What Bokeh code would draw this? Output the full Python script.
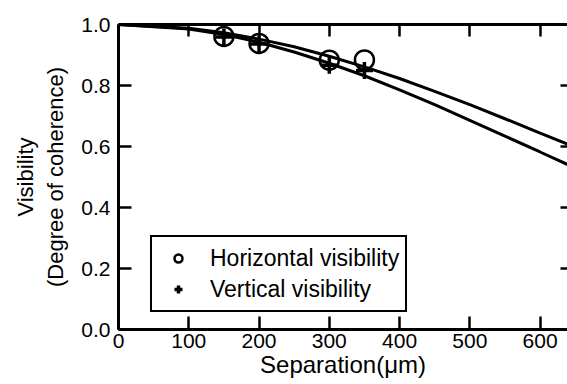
from bokeh.plotting import figure
from bokeh.models import (LinearAxis, FixedTicker, Legend, LegendItem, Range1d,
                          ColumnDataSource)
from bokeh.embed import file_html
from bokeh.resources import INLINE

# ---- data ----
curve_sep = [0, 100, 150, 200, 250, 300, 350, 400, 450, 500, 550, 600, 640]
curve_horizontal = [1.0, 0.988, 0.973, 0.952, 0.927, 0.896, 0.861, 0.823, 0.781,
                    0.737, 0.691, 0.644, 0.607]
curve_vertical = [1.0, 0.985, 0.967, 0.942, 0.910, 0.873, 0.832, 0.786, 0.737,
                  0.686, 0.634, 0.582, 0.540]

meas_sep = [150, 200, 300, 350]
meas_horizontal = [0.961, 0.938, 0.883, 0.884]
meas_vertical = [0.959, 0.936, 0.866, 0.849]

x_ticks = [0, 100, 200, 300, 400, 500, 600]
y_ticks = [0.0, 0.2, 0.4, 0.6, 0.8, 1.0]

y_label = "Visibility\n(Degree of coherence)"
x_label = "Separation(\u03bcm)"

FONT = "Liberation Sans"

p = figure(width=567, height=384, output_backend="svg", toolbar_location=None,
           x_range=Range1d(0, 639), y_range=Range1d(0, 1.0),
           min_border_left=118, min_border_right=0, min_border_top=24,
           min_border_bottom=55, x_axis_type=None, y_axis_type=None)
p.outline_line_color = None
p.grid.visible = False
p.background_fill_color = "white"
p.border_fill_color = "white"

def style_axis(ax):
    ax.axis_line_width = 3
    ax.axis_line_color = "black"
    ax.major_tick_line_width = 2.5
    ax.major_tick_line_color = "black"
    ax.major_tick_in = 13
    ax.major_tick_out = 0
    ax.minor_tick_line_width = 2.5
    ax.minor_tick_line_color = "black"
    ax.minor_tick_in = 12
    ax.minor_tick_out = 0
    ax.major_label_text_font = FONT
    ax.major_label_text_font_size = "21px"
    ax.major_label_text_color = "black"
    ax.axis_label_text_font = FONT
    ax.axis_label_text_font_style = "normal"
    ax.axis_label_text_color = "black"

xb = LinearAxis(ticker=FixedTicker(ticks=x_ticks), axis_label=x_label)
style_axis(xb)
xb.major_label_standoff = 4
xb.axis_label_standoff = 0
xb.axis_label_text_font_size = "24px"
p.add_layout(xb, "below")

# top frame line with inward ticks (tick marks only, no labels)
xt = LinearAxis(ticker=FixedTicker(ticks=[], minor_ticks=x_ticks))
style_axis(xt)
p.add_layout(xt, "above")

yl = LinearAxis(ticker=FixedTicker(ticks=y_ticks), axis_label=y_label)
style_axis(yl)
yl.major_label_standoff = 8
yl.axis_label_standoff = 10
yl.axis_label_text_font_size = "22px"
yl.major_label_overrides = {t: f"{t:.1f}" for t in y_ticks}
p.add_layout(yl, "left")

# right side: only short inward ticks are visible in the reference
yr = LinearAxis(ticker=FixedTicker(ticks=[], minor_ticks=y_ticks))
style_axis(yr)
yr.axis_line_color = None
yr.minor_tick_in = 7
p.add_layout(yr, "right")

# curves
p.line(curve_sep, curve_horizontal, line_color="black", line_width=3)
p.line(curve_sep, curve_vertical, line_color="black", line_width=3)

src = ColumnDataSource(dict(x=meas_sep, h=meas_horizontal, v=meas_vertical))
rh = p.scatter("x", "h", source=src, marker="circle", size=19,
               fill_color=None, line_color="black", line_width=2.5)
rv = p.scatter("x", "v", source=src, marker="cross", size=17,
               line_color="black", line_width=3.5)

legend = Legend(items=[LegendItem(label="Horizontal visibility", renderers=[rh]),
                       LegendItem(label="Vertical visibility", renderers=[rv])],
                location=(32, 17), orientation="vertical")
legend.border_line_color = "black"
legend.border_line_width = 2.5
legend.border_line_alpha = 1
legend.background_fill_color = "white"
legend.background_fill_alpha = 1
legend.label_text_font = FONT
legend.label_text_font_size = "23px"
legend.label_text_color = "black"
legend.padding = 6
legend.spacing = 1
legend.margin = 0
legend.label_height = 30
legend.glyph_height = 20
legend.glyph_width = 40
legend.label_standoff = 12
p.add_layout(legend, "center")

open("out.html", "w").write(file_html(p, INLINE))
